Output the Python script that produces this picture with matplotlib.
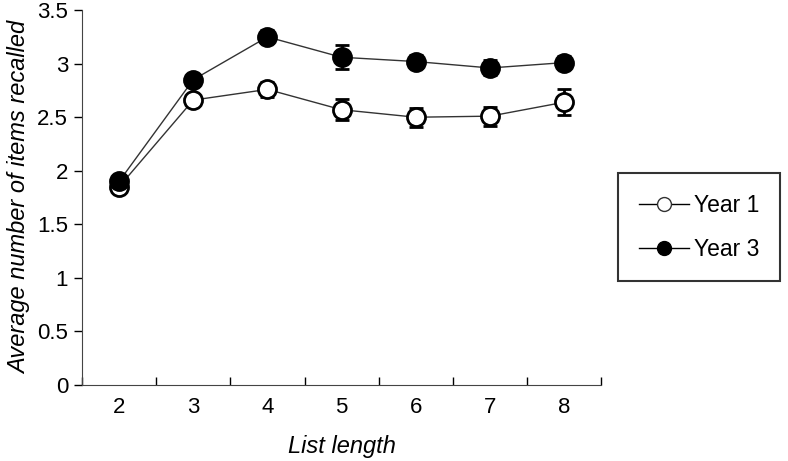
import matplotlib.pyplot as plt
import numpy as np
from matplotlib.lines import Line2D

plt.rcParams['font.family'] = ['Liberation Sans', 'DejaVu Sans']

list_length = [2, 3, 4, 5, 6, 7, 8]
year1_mean = [1.85, 2.66, 2.76, 2.57, 2.50, 2.51, 2.64]
year1_err = [0.03, 0.05, 0.07, 0.10, 0.09, 0.09, 0.12]
year3_mean = [1.90, 2.85, 3.25, 3.06, 3.02, 2.96, 3.01]
year3_err = [0.03, 0.04, 0.06, 0.11, 0.06, 0.07, 0.06]

fig = plt.figure(figsize=(7.88, 4.61), dpi=100)
ax = fig.add_axes([0.104, 0.165, 0.659, 0.813])

ax.errorbar(list_length, year1_mean, yerr=year1_err, color='#333333', lw=1,
            marker='o', ms=13, mfc='white', mec='black', mew=2,
            ecolor='black', elinewidth=2, capsize=5, capthick=2, label='Year 1')
ax.errorbar(list_length, year3_mean, yerr=year3_err, color='#333333', lw=1,
            marker='o', ms=13, mfc='black', mec='black', mew=2,
            ecolor='black', elinewidth=2, capsize=5, capthick=2, label='Year 3')

ax.set_xlim(1.5, 8.5)
ax.set_ylim(0, 3.5)
ax.set_yticks(np.arange(0, 3.51, 0.5))
ax.set_yticklabels(['0', '0.5', '1', '1.5', '2', '2.5', '3', '3.5'])
ax.set_xticks(list_length)
ax.set_xticks(np.arange(1.5, 8.6, 1), minor=True)
ax.tick_params(axis='x', which='major', length=0, pad=9, labelsize=16)
ax.tick_params(axis='x', which='minor', length=6, direction='in', width=1)
ax.tick_params(axis='y', length=6, direction='out', width=1, labelsize=16, pad=4)
for s in ['top', 'right']:
    ax.spines[s].set_visible(False)
ax.spines['left'].set_color('#444444')
ax.spines['bottom'].set_color('#444444')

ax.set_xlabel('List length', fontsize=17, style='italic', labelpad=12)
ax.set_ylabel('Average number of items recalled', fontsize=17, style='italic', labelpad=4)

h1 = Line2D([], [], color='black', lw=1, marker='o', ms=10, mfc='white', mec='#333333')
h3 = Line2D([], [], color='black', lw=1, marker='o', ms=10, mfc='black', mec='black')
leg = fig.legend([h1, h3], ['Year 1', 'Year 3'], loc='center',
                 bbox_to_anchor=(0.887, 0.507), frameon=True, fancybox=False,
                 edgecolor='black', fontsize=16.5, borderpad=0.9, handlelength=2.2,
                 handletextpad=0.2, labelspacing=0.9, borderaxespad=0)
leg.get_frame().set_linewidth(1.5)

fig.savefig('out.png', dpi=100)
